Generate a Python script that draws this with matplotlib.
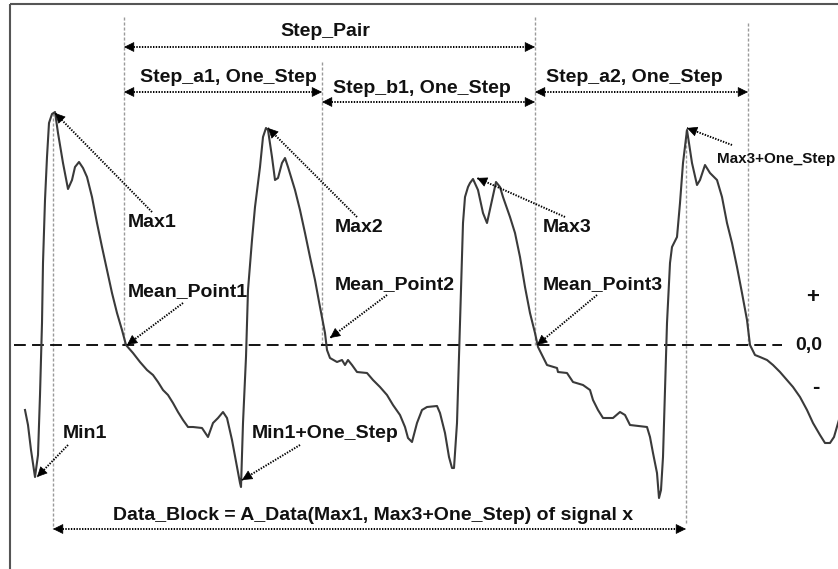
import numpy as np
import matplotlib
matplotlib.use("Agg")
import matplotlib.pyplot as plt
from matplotlib.patches import FancyArrowPatch

plt.rcParams["lines.scale_dashes"] = False
plt.rcParams["font.family"] = ["Liberation Sans", "DejaVu Sans"]

# ---- signal trace (horizontal position, vertical position; y grows downward) ----
signal_x = [25, 28, 31, 35, 38, 40, 42, 43, 45, 47, 49, 52, 55,
            58, 63, 68, 72, 75, 79, 83, 87, 92, 97, 102, 107, 112, 117, 122, 126,
            133, 140, 147, 153, 158, 163, 168, 173, 178, 183, 188, 193, 202, 208,
            213, 218, 223, 227, 232, 237, 240, 241,
            243, 246, 248, 252, 255, 260, 263, 266, 268, 272, 275, 278, 282, 285,
            288, 295, 300, 305, 310, 315, 320, 325, 327, 330, 337, 342, 345, 348,
            352, 357, 367, 373, 380, 387, 393, 400, 405, 408, 412, 417, 422, 427,
            437, 440, 445, 449, 452, 454,
            457, 459, 461, 463, 465, 468, 470, 473, 478, 483, 487, 492, 496, 500,
            503, 510, 515, 520, 525, 530, 535, 538, 543, 547, 557, 558, 567, 573,
            583, 590, 593, 598, 603, 613, 620, 625, 630, 647, 650, 653, 657, 659,
            661, 663, 665, 667, 670, 672, 677, 680, 683, 687,
            692, 697, 700, 705, 710, 717, 722, 727, 732, 737, 742, 747, 750, 755,
            760, 767, 773, 780, 787, 793, 800, 807, 813, 820, 825, 830, 834, 838, 842]
signal_y = [410, 425, 450, 477, 455, 395, 323, 263, 200, 157, 123, 114, 112,
            133, 163, 189, 180, 167, 162, 168, 177, 197, 223, 247, 270, 293, 313, 330, 345,
            353, 362, 370, 375, 382, 390, 395, 403, 412, 420, 427, 427, 428, 437,
            423, 418, 412, 418, 440, 467, 483, 487,
            423, 357, 290, 240, 207, 167, 137, 128, 130, 157, 180, 178, 163, 158,
            167, 190, 210, 233, 257, 280, 307, 333, 350, 358, 362, 360, 365, 360,
            365, 372, 373, 380, 387, 395, 405, 415, 427, 438, 442, 423, 410, 407,
            406, 413, 433, 457, 468, 468,
            423, 357, 290, 223, 197, 187, 183, 179, 190, 213, 223, 200, 182, 187,
            197, 217, 233, 257, 287, 313, 333, 347, 357, 365, 368, 372, 373, 382,
            385, 390, 400, 410, 418, 418, 412, 415, 425, 427, 437, 453, 473, 498,
            490, 457, 390, 323, 263, 247, 237, 203, 163, 130,
            163, 185, 180, 165, 173, 180, 197, 223, 243, 267, 293, 320, 345, 355,
            357, 360, 365, 372, 380, 387, 397, 410, 423, 435, 443, 443, 437, 423, 410]

# ---- guide lines ----
zero_level = 345
guide_x = [53, 124, 322, 535, 686, 748]
guide_top = [113, 17, 62, 17, 130, 23]
guide_bottom = [529, 345, 345, 345, 523, 345]

# ---- span arrows: (label, x_start, x_end, arrow_y, text_x, text_y) ----
span_labels = ["Step_Pair", "Step_a1, One_Step", "Step_b1, One_Step",
               "Step_a2, One_Step",
               "Data_Block = A_Data(Max1, Max3+One_Step) of signal x"]
span_start = [124, 124, 322, 535, 53]
span_end = [535, 322, 535, 748, 686]
span_y = [47, 92, 102, 92, 529]
span_text_x = [280, 140, 333, 546, 113]
span_text_y = [31, 77, 88, 77, 515]

# ---- point annotations ----
point_labels = ["Max1", "Mean_Point1", "Min1", "Max2", "Mean_Point2",
                "Min1+One_Step", "Max3", "Mean_Point3"]
point_text_x = [128, 128, 63, 335, 335, 252, 543, 543]
point_text_y = [222, 292, 433, 227, 285, 433, 227, 285]
point_tail = [(152, 212), (183, 303), (68, 445), (357, 217), (387, 295),
              (300, 445), (565, 217), (597, 295)]
point_tip = [(55, 113), (127, 345), (37, 477), (268, 128), (330, 338),
             (242, 480), (477, 178), (537, 345)]

W, H = 838, 569
fig = plt.figure(figsize=(W / 100, H / 100), dpi=100)
ax = fig.add_axes([0, 0, 1, 1])
ax.set_xlim(0, W)
ax.set_ylim(H, 0)
ax.axis("off")

# frame (top and left edges)
ax.plot([10, W], [4, 4], color="#555555", lw=1.5, solid_capstyle="butt")
ax.plot([10, 10], [4, H], color="#555555", lw=1.5, solid_capstyle="butt")

# gray dashed vertical guides
for gx, gt, gb in zip(guide_x, guide_top, guide_bottom):
    ax.plot([gx, gx], [gt, gb], color="#9a9a9a", lw=1.0, dashes=(2.2, 1.4))

# zero reference line
ax.plot([14, 782], [zero_level, zero_level], color="black", lw=1.3,
        dashes=(8.5, 4.5))

# signal
ax.plot(signal_x, signal_y, color="#3a3a3a", lw=1.5, solid_joinstyle="round")


def head(tip, tail):
    tip = np.array(tip, float)
    tail = np.array(tail, float)
    d = tip - tail
    d /= np.hypot(*d)
    start = tip - d * 2.0
    p = FancyArrowPatch(tuple(start), tuple(tip),
                        arrowstyle="-|>,head_length=0.65,head_width=0.32",
                        mutation_scale=10, color="black", lw=0.5,
                        shrinkA=0, shrinkB=0, zorder=5)
    ax.add_patch(p)


def dotted(p0, p1):
    ax.plot([p0[0], p1[0]], [p0[1], p1[1]], color="black", lw=1.4,
            dashes=(1.0, 1.0), zorder=4)


# span arrows and labels
for lab, xs, xe, yy, tx, ty in zip(span_labels, span_start, span_end, span_y,
                                   span_text_x, span_text_y):
    dotted((xs + 4, yy), (xe - 4, yy))
    head((xs, yy), (xe, yy))
    head((xe, yy), (xs, yy))
    ax.text(tx, ty, lab, fontsize=14, fontweight="bold", ha="left",
            va="center", color="#111111")

# point annotations
for lab, tx, ty, tail, tip in zip(point_labels, point_text_x, point_text_y,
                                  point_tail, point_tip):
    dotted(tail, tip)
    head(tip, tail)
    ax.text(tx, ty, lab, fontsize=14, fontweight="bold", ha="left",
            va="center", color="#111111")

# smaller annotation at the right
dotted((732, 145), (687, 128))
head((687, 128), (732, 145))
ax.text(717, 159, "Max3+One_Step", fontsize=11, fontweight="bold",
        ha="left", va="center", color="#111111")

# sign markers
ax.text(813, 297, "+", fontsize=16, fontweight="bold", ha="center",
        va="center", color="#111111")
ax.text(795, 345, "0,0", fontsize=14, fontweight="bold", ha="left",
        va="center", color="#111111")
ax.text(816, 387, "-", fontsize=16, fontweight="bold", ha="center",
        va="center", color="#111111")

fig.savefig("out.png", dpi=100)
